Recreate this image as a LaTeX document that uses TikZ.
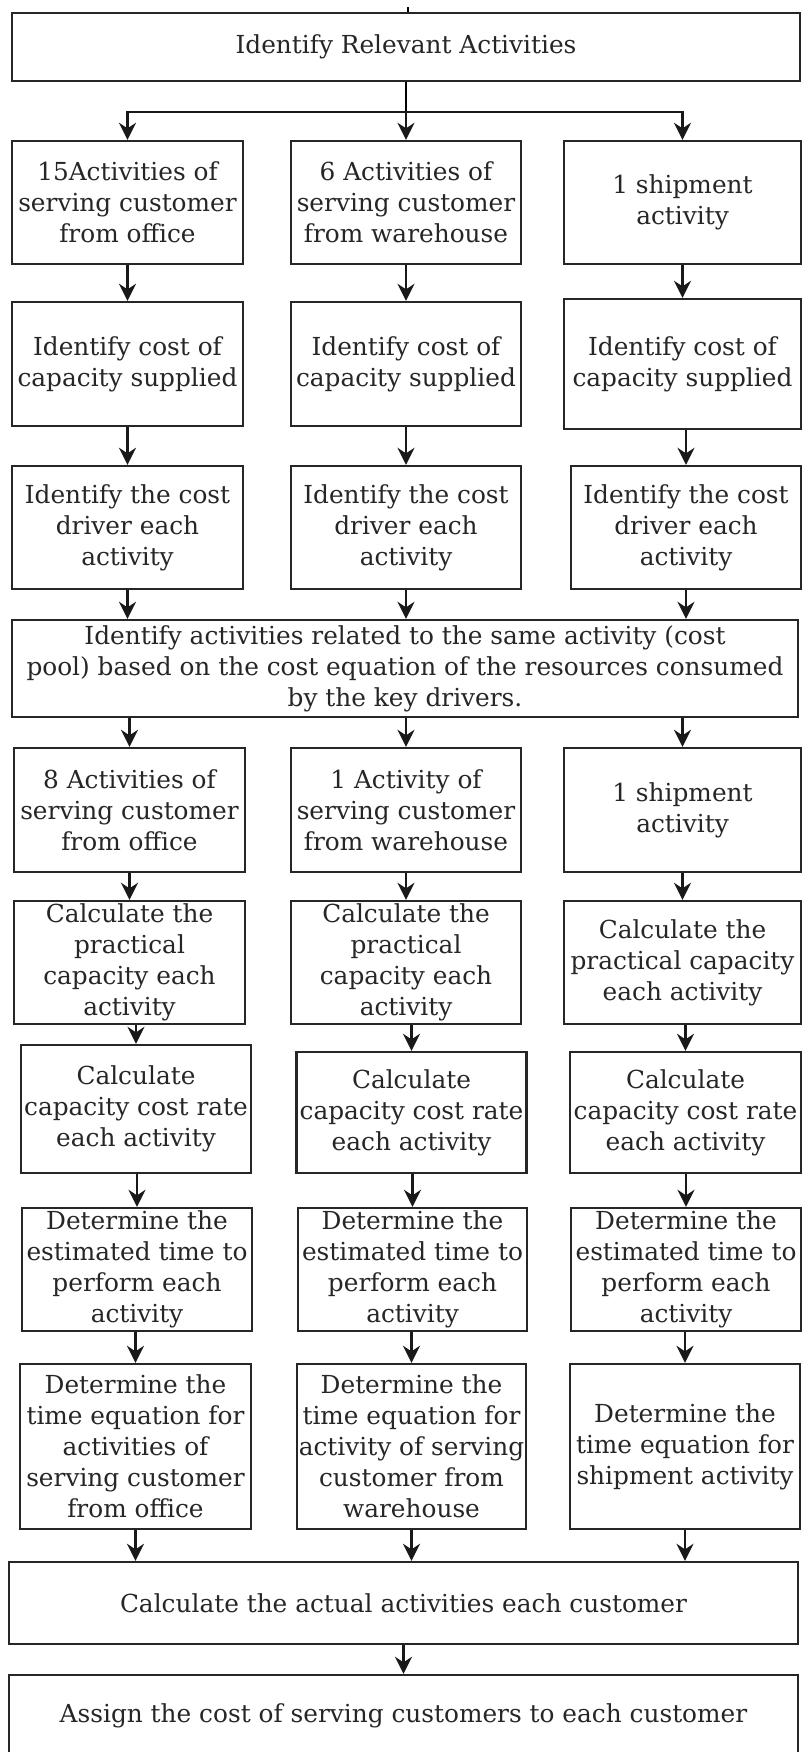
\documentclass[tikz,border=0pt]{standalone}
\usepackage{fontspec}
\setmainfont{DejaVu Serif}
\usetikzlibrary{arrows.meta}

\begin{document}
\begin{tikzpicture}[x=1pt, y=-1pt, >={Stealth[length=17pt,width=17pt]},
        box/.style={draw=black!85, line width=2.4pt, align=center, inner sep=0pt,
            text=black!85, font=\fontsize{24.8}{31}\selectfont},
        flow/.style={->, line width=2.4pt, draw=black!90}]
    \useasboundingbox[fill=white] (0,0) rectangle (802,1752);

    % top
    \node[box, minimum width=788pt, minimum height=68pt] (top) at (406,47) {Identify Relevant Activities};
    \coordinate (tick) at (408,7);
    \coordinate (split) at (406,112);

    % row 1
    \node[box, minimum width=231pt, minimum height=123pt] (r1a) at (127.5,202.5) {15Activities of\\serving customer\\from office};
    \node[box, minimum width=230pt, minimum height=123pt] (r1b) at (406,202.5) {6 Activities of\\serving customer\\from warehouse};
    \node[box, minimum width=237pt, minimum height=123pt] (r1c) at (682.5,202.5) {1 shipment\\activity};
    % row 2
    \node[box, minimum width=231pt, minimum height=124pt] (r2a) at (127.5,364) {Identify cost of\\capacity supplied};
    \node[box, minimum width=230pt, minimum height=124pt] (r2b) at (406,364) {Identify cost of\\capacity supplied};
    \node[box, minimum width=237pt, minimum height=130pt] (r2c) at (682.5,364) {Identify cost of\\capacity supplied};
    % row 3
    \node[box, minimum width=231pt, minimum height=123pt] (r3a) at (127.5,527.5) {Identify the cost\\driver each\\activity};
    \node[box, minimum width=230pt, minimum height=123pt] (r3b) at (406,527.5) {Identify the cost\\driver each\\activity};
    \node[box, minimum width=230pt, minimum height=123pt] (r3c) at (686,527.5) {Identify the cost\\driver each\\activity};
    % cost pool
    \node[box, minimum width=786pt, minimum height=97pt] (pool) at (405,668.5) {Identify activities related to the same activity (cost\\pool) based on the cost equation of the resources consumed\\by the key drivers.};
    % row 4
    \node[box, minimum width=231pt, minimum height=124pt] (r4a) at (129.5,810) {8 Activities of\\serving customer\\from office};
    \node[box, minimum width=230pt, minimum height=124pt] (r4b) at (406,810) {1 Activity of\\serving customer\\from warehouse};
    \node[box, minimum width=237pt, minimum height=124pt] (r4c) at (682.5,810) {1 shipment\\activity};
    % row 5
    \node[box, minimum width=231pt, minimum height=123pt] (r5a) at (129.5,962.5) {Calculate the\\practical\\capacity each\\activity};
    \node[box, minimum width=230pt, minimum height=123pt] (r5b) at (406,962.5) {Calculate the\\practical\\capacity each\\activity};
    \node[box, minimum width=237pt, minimum height=123pt] (r5c) at (682.5,962.5) {Calculate the\\practical capacity\\each activity};
    % row 6
    \node[box, minimum width=230pt, minimum height=128pt] (r6a) at (136,1109) {Calculate\\capacity cost rate\\each activity};
    \node[box, minimum width=230pt, minimum height=121pt] (r6b) at (411.5,1112.5) {Calculate\\capacity cost rate\\each activity};
    \node[box, minimum width=231pt, minimum height=121pt] (r6c) at (685.5,1112.5) {Calculate\\capacity cost rate\\each activity};
    % row 7
    \node[box, minimum width=230pt, minimum height=123pt] (r7a) at (137,1269.5) {Determine the\\estimated time to\\perform each\\activity};
    \node[box, minimum width=229pt, minimum height=123pt] (r7b) at (412.5,1269.5) {Determine the\\estimated time to\\perform each\\activity};
    \node[box, minimum width=230pt, minimum height=123pt] (r7c) at (686,1269.5) {Determine the\\estimated time to\\perform each\\activity};
    % row 8
    \node[box, minimum width=231pt, minimum height=165pt] (r8a) at (135.5,1446.5) {Determine the\\time equation for\\activities of\\serving customer\\from office};
    \node[box, minimum width=229pt, minimum height=165pt] (r8b) at (411.5,1446.5) {Determine the\\time equation for\\activity of serving\\customer from\\warehouse};
    \node[box, minimum width=230pt, minimum height=165pt] (r8c) at (685,1446.5) {Determine the\\time equation for\\shipment activity};
    % bottom
    \node[box, minimum width=789pt, minimum height=82pt] (calc) at (403.5,1603) {Calculate the actual activities each customer};
    \node[box, minimum width=789pt, minimum height=82pt] (assign) at (403.5,1716) {Assign the cost of serving customers to each customer};

    % connectors
    \draw[line width=2pt] (top.north -| tick) -- (tick);
    \draw[line width=2.4pt] (top) -- (split);
    \draw[flow] (split) -| (r1a);
    \draw[flow] (split) -- (r1b);
    \draw[flow] (split) -| (r1c);
    \foreach \u/\v in {r1a/r2a, r1b/r2b, r1c/r2c, r2a/r3a, r2b/r3b, r2c/r3c,
                       r4a/r5a, r4b/r5b, r4c/r5c, r5a/r6a, r5b/r6b, r5c/r6c,
                       r6a/r7a, r6b/r7b, r6c/r7c, r7a/r8a, r7b/r8b, r7c/r8c}
        \draw[flow] (\u.south -| \v.north) -- (\v.north);
    \foreach \u in {r3a, r3b, r3c}
        \draw[flow] (\u.south) -- (\u.south |- pool.north);
    \foreach \v in {r4a, r4b, r4c}
        \draw[flow] (pool.south -| \v.north) -- (\v.north);
    \foreach \u in {r8a, r8b, r8c}
        \draw[flow] (\u.south) -- (\u.south |- calc.north);
    \draw[flow] (calc) -- (assign);
\end{tikzpicture}
\end{document}
